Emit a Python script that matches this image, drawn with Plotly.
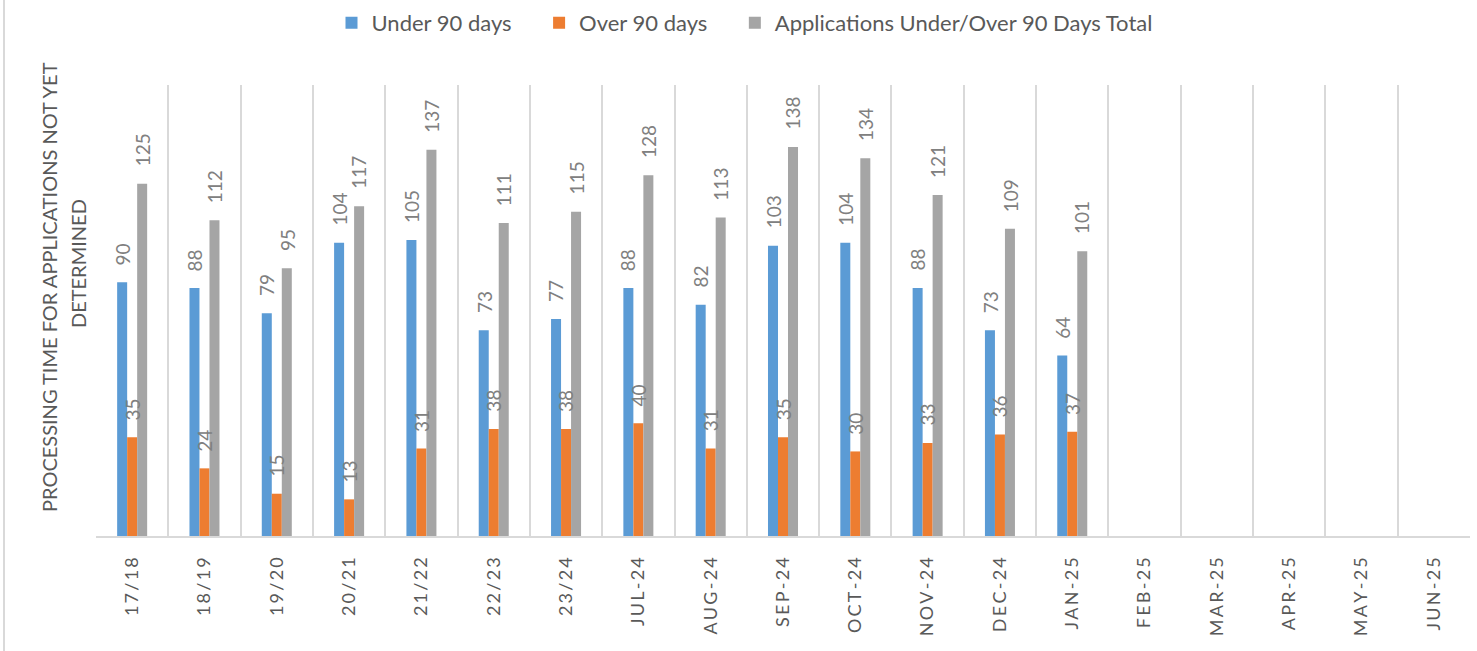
import plotly.graph_objects as go

categories = ["17/18", "18/19", "19/20", "20/21", "21/22", "22/23", "23/24",
              "JUL-24", "AUG-24", "SEP-24", "OCT-24", "NOV-24", "DEC-24", "JAN-25",
              "FEB-25", "MAR-25", "APR-25", "MAY-25", "JUN-25"]
under_90 = [90, 88, 79, 104, 105, 73, 77, 88, 82, 103, 104, 88, 73, 64,
            None, None, None, None, None]
over_90 = [35, 24, 15, 13, 31, 38, 38, 40, 31, 35, 30, 33, 36, 37,
           None, None, None, None, None]
total = [125, 112, 95, 117, 137, 111, 115, 128, 113, 138, 134, 121, 109, 101,
         None, None, None, None, None]
series_names = ["Under 90 days", "Over 90 days", "Applications Under/Over 90 Days Total"]
y_title_lines = ["PROCESSING TIME FOR APPLICATIONS NOT YET", "DETERMINED"]

colors = ["#5b9bd5", "#ed7d31", "#a5a5a5"]
shifts = [-10, 0, 10]

FONT = "Lato, 'Open Sans', sans-serif"
W, H = 1477, 651
L, R, T, B = 96, 7, 85, 115
PW, PH = W - L - R, H - T - B

fig = go.Figure()
annotations = []
for name, vals, color, shift in zip(series_names, [under_90, over_90, total], colors, shifts):
    fig.add_trace(go.Bar(x=categories, y=vals, name=name + "\u00a0" * 4,
                         marker=dict(color=color, line=dict(width=0))))
    for c, v in zip(categories, vals):
        if v is None:
            continue
        annotations.append(dict(
            x=c, y=v, xref="x", yref="y", text=str(v), showarrow=False,
            textangle=-90, xanchor="center", yanchor="bottom",
            xshift=shift, yshift=15,
            font=dict(family=FONT, size=19, color="#808080")))

# y-axis title (two centred lines, positioned as in the reference)
for txt, px, py in zip(y_title_lines, [49, 78], [287, 264]):
    annotations.append(dict(
        x=(px - L) / PW, y=(H - B - py) / PH, xref="paper", yref="paper",
        text=txt, showarrow=False, textangle=-90,
        xanchor="center", yanchor="middle",
        font=dict(family=FONT, size=20, color="#595959")))

ticktext = ["\u2009".join(list(c)) for c in categories]

fig.update_layout(
    width=W, height=H,
    margin=dict(l=L, r=R, t=T, b=B, autoexpand=False),
    paper_bgcolor="white", plot_bgcolor="white",
    barmode="group", bargap=0.585, bargroupgap=0,
    font=dict(family=FONT, color="#595959"),
    legend=dict(orientation="h", x=(756 - L) / PW, xanchor="center",
                yref="container", y=1 - 23 / H, yanchor="middle",
                font=dict(size=22, color="#595959"), traceorder="normal",
                itemwidth=30),
    xaxis=dict(type="category", tickvals=categories, ticktext=ticktext,
               tickangle=-90, tickfont=dict(size=18, color="#595959"),
               showgrid=True, gridcolor="#d9d9d9", gridwidth=2,
               tickson="boundaries", ticks="", ticklabelstandoff=12,
               showline=True, linecolor="#d9d9d9", linewidth=2,
               mirror=False, automargin=False),
    yaxis=dict(range=[0, 160], showgrid=False, showticklabels=False,
               zeroline=False, showline=False, ticks="", automargin=False),
    annotations=annotations,
    shapes=[dict(type="line", xref="paper", yref="paper",
                 x0=(4 - L) / PW, x1=(4 - L) / PW,
                 y0=-B / PH - 0.1, y1=1 + T / PH + 0.1,
                 line=dict(color="#d9d9d9", width=2), layer="below")],
)

fig.write_html("out.html", config={"displayModeBar": False},
               post_script="document.body.style.margin='0';")
